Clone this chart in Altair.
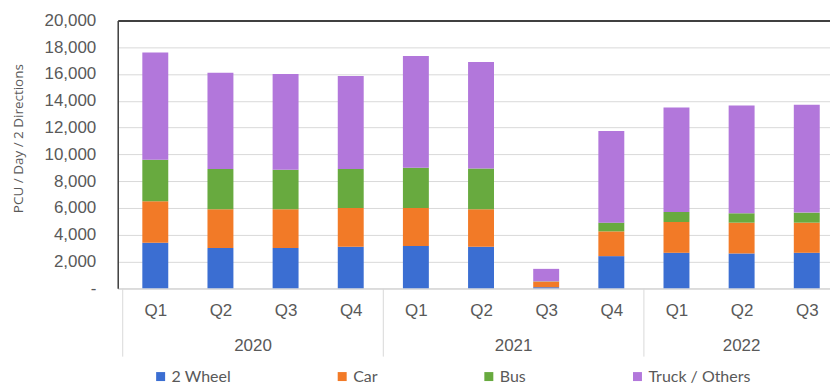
import altair as alt
import pandas as pd

# ---- data ----
quarters = ["Q1", "Q2", "Q3", "Q4", "Q1", "Q2", "Q3", "Q4", "Q1", "Q2", "Q3"]
years = ["2020", "2020", "2020", "2020", "2021", "2021", "2021", "2021", "2022", "2022", "2022"]
types = ["2 Wheel", "Car", "Bus", "Truck / Others"]
two_wheel = [3400, 3000, 3000, 3100, 3150, 3100, 80, 2400, 2650, 2600, 2650]
car = [3100, 2900, 2900, 2900, 2850, 2800, 420, 1850, 2300, 2300, 2250]
bus = [3100, 3000, 2950, 2900, 3000, 3050, 20, 650, 750, 700, 750]
truck = [8000, 7200, 7150, 6950, 8350, 7950, 930, 6850, 7800, 8050, 8050]
colors = ["#3B6ED2", "#F27A27", "#68AA3F", "#B277DB"]
y_ticks = [0, 2000, 4000, 6000, 8000, 10000, 12000, 14000, 16000, 18000, 20000]

series = [two_wheel, car, bus, truck]
rows = []
for k, (t, vals) in enumerate(zip(types, series)):
    for i, v in enumerate(vals):
        rows.append({"idx": i, "quarter": quarters[i], "year": years[i],
                     "type": t, "order": k, "value": v})
df = pd.DataFrame(rows)

# year groups: centre and left separator from the index arrays
year_names = list(dict.fromkeys(years))
yr_rows = []
for y in year_names:
    ids = [i for i, yy in enumerate(years) if yy == y]
    yr_rows.append({"year": y, "center": sum(ids) / len(ids), "sep": min(ids) - 0.5})
ydf = pd.DataFrame(yr_rows)

W, H = 714, 268.5
label_font = "Liberation Sans"
gray = "#595959"

xscale = alt.Scale(domain=[-0.5, 10.28], nice=False, zero=False)
q_expr = "[" + ",".join("'%s'" % q for q in quarters) + "][datum.value]"

bars = alt.Chart(df).mark_bar(size=26).encode(
    x=alt.X("idx:Q", scale=xscale,
            axis=alt.Axis(values=list(range(len(quarters))), labelExpr=q_expr,
                          title=None, grid=False, ticks=False,
                          domainColor="#D9D9D9", labelFont=label_font,
                          labelFontSize=17, labelColor=gray, labelPadding=14)),
    y=alt.Y("value:Q", stack="zero",
            scale=alt.Scale(domain=[0, 20000], nice=False),
            axis=alt.Axis(values=y_ticks,
                          labelExpr="datum.value == 0 ? '-' : format(datum.value, ',')",
                          labelFont=label_font, labelFontSize=17, labelColor=gray,
                          labelPadding=22, ticks=False,
                          domainColor="#404040", domainWidth=1.5,
                          gridColor={"condition": {"test": "datum.value == 20000", "value": "#404040"},
                                     "value": "#D9D9D9"},
                          gridWidth={"condition": {"test": "datum.value == 20000", "value": 2},
                                     "value": 1},
                          title="PCU / Day / 2 Directions",
                          titleFont="Open Sans", titleFontSize=13.5, titleFontWeight="normal",
                          titleColor=gray, titleX=-99, titleY=118, titleAngle=-90,
                          titleAlign="center", titleBaseline="middle")),
    color=alt.Color("type:N", scale=alt.Scale(domain=types, range=colors),
                    legend=alt.Legend(title=None, orient="none", direction="horizontal",
                                      legendX=35, legendY=349, symbolType="square",
                                      symbolSize=81, symbolStrokeWidth=0,
                                      labelFont="Lato", labelFontSize=16,
                                      labelColor=gray, columnPadding=103,
                                      symbolOffset=0, labelOffset=3)),
    order=alt.Order("order:Q"),
)

year_text = alt.Chart(ydf).mark_text(font=label_font, fontSize=17, color=gray,
                                     baseline="middle").encode(
    x=alt.X("center:Q", scale=xscale),
    y=alt.value(326),
    text="year:N",
)

seps = alt.Chart(ydf).mark_rule(color="#D9D9D9", strokeWidth=1).encode(
    x=alt.X("sep:Q", scale=xscale),
    y=alt.value(H),
    y2=alt.value(337),
)

chart = alt.layer(bars, seps, year_text).properties(
    width=W, height=H,
    autosize=alt.AutoSizeParams(type="none"),
    padding={"left": 110, "top": 12, "right": 0, "bottom": 98},
).configure_view(stroke=None).configure(background="white")

chart.save("out.html", embed_options={"renderer": "svg", "actions": False})
